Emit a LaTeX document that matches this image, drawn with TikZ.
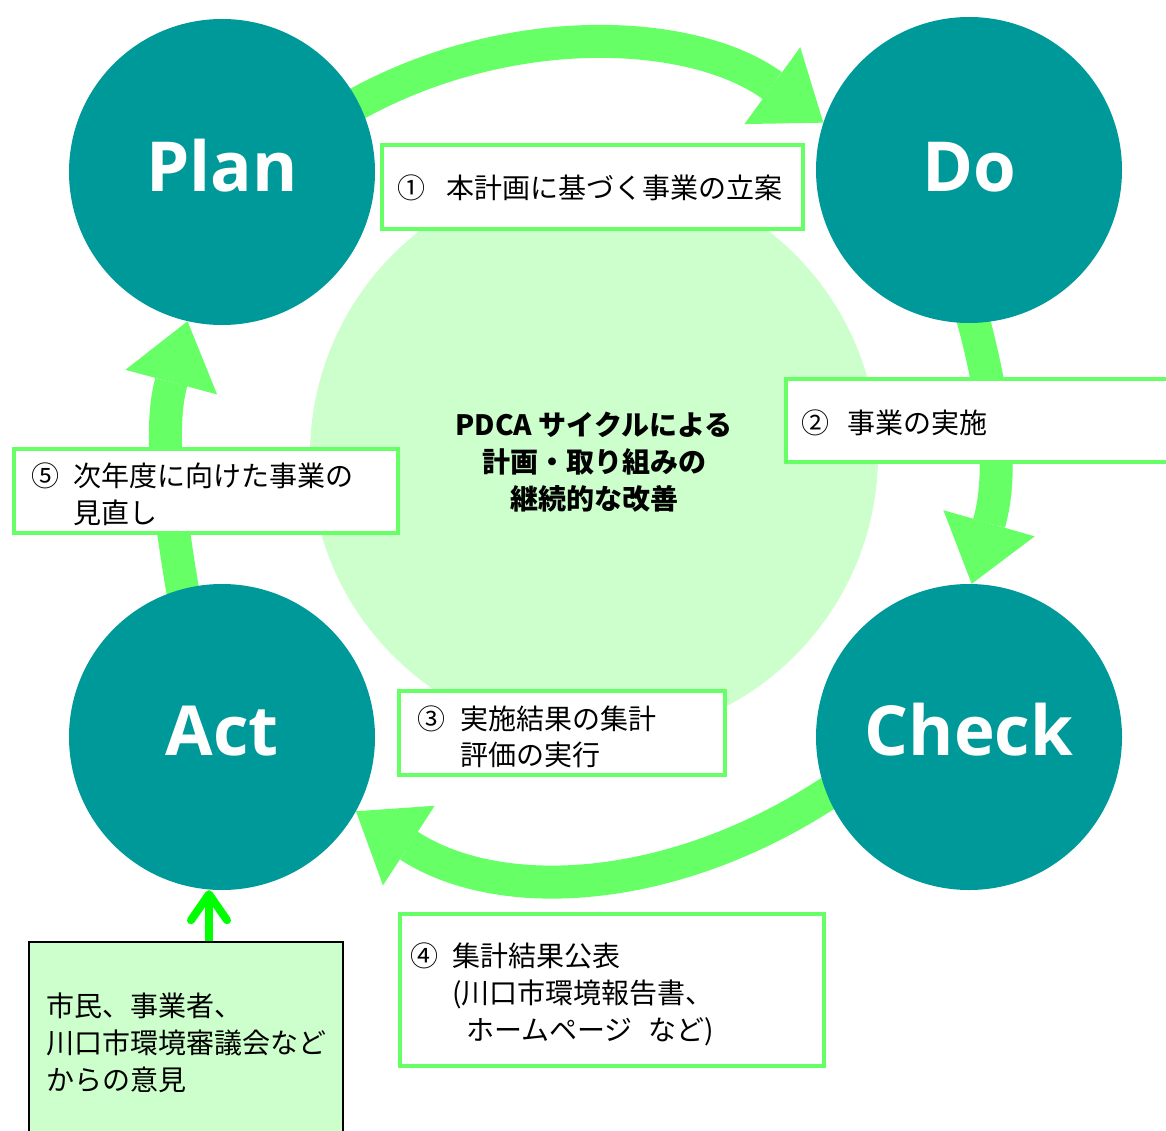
\documentclass[tikz,border=0pt]{standalone}
\usepackage{fontspec}
\setmainfont{Noto Sans CJK JP}
\newfontfamily\lblfont{Open Sans}
\usetikzlibrary{arrows.meta,backgrounds}
\definecolor{tealc}{RGB}{0,153,153}
\definecolor{arrowgreen}{RGB}{102,255,102}
\definecolor{palegreen}{RGB}{204,255,204}
\definecolor{brightgreen}{RGB}{0,255,0}
\begin{document}
\begin{tikzpicture}[x=1pt,y=1pt,
  phase/.style={circle, fill=tealc, minimum size=306pt, inner sep=0pt},
  phaselabel/.style={anchor=base, text=white, inner sep=0pt,
    font=\lblfont\bfseries\fontsize{69pt}{80pt}\selectfont},
  bigarrow/.style={draw=arrowgreen, line width=33pt,
    -{Triangle[length=63pt,width=95pt,line width=0pt]}, shorten <=-22pt},
  stepbox/.style={draw=arrowgreen, line width=4pt, fill=white, inner sep=0pt},
  boxtext/.style={anchor=base west, inner sep=0pt,
    font=\fontsize{28pt}{37pt}\selectfont},
  smallarrow/.style={draw=brightgreen, line width=8pt,
    -{Straight Barb[length=26pt,width=36pt,round]}}
]
\useasboundingbox (0,0) rectangle (1166,-1131);

% phase circles
\node[phase] (plan)  at (222,-172) {};
\node[phase] (do)    at (969,-170) {};
\node[phase] (act)   at (222,-737) {};
\node[phase] (check) at (969,-737) {};
\node[phaselabel] (planlabel)  at ([yshift=-20pt]plan.center)  {Plan};
\node[phaselabel] (dolabel)    at ([yshift=-22pt]do.center)    {Do};
\node[phaselabel] (actlabel)   at ([yshift=-18pt]act.center)   {Act};
\node[phaselabel] (checklabel) at ([yshift=-18pt]check.center) {Check};

\begin{scope}[on background layer]
  \node[circle, fill=palegreen, minimum size=568pt, inner sep=0pt] (core) at (594,-455) {};
  \draw[bigarrow] (plan.27) to[out=31, in=144, looseness=0.9] (do.162);
  \draw[bigarrow] (do.-88) to[out=-74, in=74] (check.89);
  \draw[bigarrow] (check.-158) to[out=-145, in=-33, looseness=0.95] (act.-29);
  \draw[bigarrow] (act.105) to[out=100, in=-105] (plan.-103);
\end{scope}

% centre text
\node[anchor=base, inner sep=0pt, font=\bfseries\fontsize{28pt}{37pt}\selectfont] (coretext) at (594,-435)
  {\begin{tabular}[t]{@{}c@{}}PDCA サイクルによる\\計画・取り組みの\\継続的な改善\end{tabular}};

% step boxes
\node[stepbox, minimum width=421pt, minimum height=84pt] (box1) at (592.5,-187) {};
\node[stepbox, minimum width=400pt, minimum height=83pt] (box2) at (986,-420.5) {};
\node[stepbox, minimum width=326pt, minimum height=84pt] (box3) at (562,-733) {};
\node[stepbox, minimum width=424pt, minimum height=152pt] (box4) at (612,-990) {};
\node[stepbox, minimum width=384pt, minimum height=84pt] (box5) at (206,-491) {};

\node[boxtext] (t1) at (397,-199) {\makebox[49pt][l]{①}本計画に基づく事業の立案};
\node[boxtext] (t2) at (801,-433) {\makebox[46pt][l]{②}事業の実施};
\node[boxtext, font=\fontsize{28pt}{36pt}\selectfont] (t3) at (417,-729)
  {\begin{tabular}[t]{@{}l@{}l@{}}\makebox[43pt][l]{③}&実施結果の集計\\&評価の実行\end{tabular}};
\node[boxtext] (t4) at (410,-966)
  {\begin{tabular}[t]{@{}l@{}l@{}}\makebox[42pt][l]{④}&集計結果公表\\&(川口市環境報告書、\\&\hspace*{14pt}ホームページ\hspace{16pt}など)\end{tabular}};
\node[boxtext] (t5) at (31,-486)
  {\begin{tabular}[t]{@{}l@{}l@{}}\makebox[42pt][l]{⑤}&次年度に向けた事業の\\&見直し\end{tabular}};

% opinions box
\node[draw=black, line width=1.5pt, fill=palegreen, minimum width=314pt, minimum height=220pt, inner sep=0pt] (opinion) at (186,-1052) {};
\node[boxtext] (t6) at (46,-1016)
  {\begin{tabular}[t]{@{}l@{}}市民、事業者、\\川口市環境審議会など\\からの意見\end{tabular}};

\coordinate (sa) at (209,-900);
\draw[smallarrow] (opinion.north -| sa) -- (act.south -| sa);
\end{tikzpicture}
\end{document}
